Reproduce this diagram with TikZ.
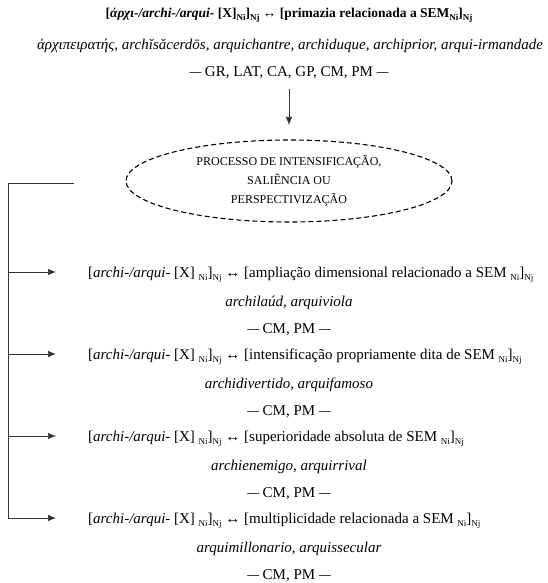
\documentclass[tikz,border=0pt]{standalone}
\usepackage{fontspec}
\setmainfont{Liberation Serif}
\usetikzlibrary{arrows.meta,shapes.geometric}
% small lowered index letters (Ni, Nj)
\newcommand\lw[1]{\raisebox{-0.45ex}{\fontsize{9}{9}\selectfont #1}}
\newcommand\pref{\textit{archi-/arqui-}}
% a somewhat shortened dash for the period labels
\newcommand\dsh{\scalebox{0.78}[1]{—}}
\begin{document}
\begin{tikzpicture}[x=1pt,y=-1pt,
  base/.style={inner sep=0pt, font=\fontsize{15}{18}\selectfont},
  txt/.style={base, anchor=base},
  extxt/.style={base, anchor=base, font=\itshape\fontsize{15}{18}\selectfont},
  rowtxt/.style={base, anchor=base west},
  rule/.style={line width=0.7pt, draw=black!80},
  tip/.style={-{Latex[length=8pt,width=6.5pt]}}]
\useasboundingbox (0,0) rectangle (548,583);

% header: general construction
\node[txt, font=\bfseries\fontsize{13.5}{16}\selectfont] (title) at (289,18)
  {[\textit{ἀρχι-/archi-/arqui-} [X]\lw{Ni}]\lw{Nj} ↔ [primazia relacionada a SEM\lw{Ni}]\lw{Nj}};
\node[extxt] (ex0) at (290,50)
  {ἀρχιπειρατής, archĭsăcerdōs, arquichantre, archiduque, archiprior, arqui-irmandade};
\node[txt] (per0) at (289,77) {\dsh{} GR, LAT, CA, GP, CM, PM \dsh};

\coordinate (d0) at (289,89);
\coordinate (d1) at (289,125);
\draw[rule, tip] (d0) -- (d1);
\node[ellipse, draw, dashed, dash pattern=on 5pt off 3pt, line width=1.1pt,
  minimum width=326pt, minimum height=82pt, inner sep=0pt, align=center,
  font=\fontsize{12}{19}\selectfont] (proc) at (289,181)
  {PROCESSO DE INTENSIFICAÇÃO,\\ SALIÊNCIA OU\\ PERSPECTIVIZAÇÃO};

% the four specialised constructions
\node[rowtxt] (r1) at (88,277)
  {[\pref{} [X] \lw{Ni}]\lw{Nj} ↔ [ampliação dimensional relacionado a SEM \lw{Ni}]\lw{Nj}};
\node[extxt] (e1) at (289,306) {archilaúd, arquiviola};
\node[txt] (p1) at (289,333) {\dsh{} CM, PM \dsh};

\node[rowtxt] (r2) at (88,359)
  {[\pref{} [X] \lw{Ni}]\lw{Nj} ↔ [intensificação propriamente dita de SEM \lw{Ni}]\lw{Nj}};
\node[extxt] (e2) at (289,388) {archidivertido, arquifamoso};
\node[txt] (p2) at (289,415) {\dsh{} CM, PM \dsh};

\node[rowtxt] (r3) at (88,441)
  {[\pref{} [X] \lw{Ni}]\lw{Nj} ↔ [superioridade absoluta de SEM \lw{Ni}]\lw{Nj}};
\node[extxt] (e3) at (289,470) {archienemigo, arquirrival};
\node[txt] (p3) at (289,497) {\dsh{} CM, PM \dsh};

\node[rowtxt] (r4) at (88,523)
  {[\pref{} [X] \lw{Ni}]\lw{Nj} ↔ [multiplicidade relacionada a SEM \lw{Ni}]\lw{Nj}};
\node[extxt] (e4) at (289,552) {arquimillonario, arquissecular};
\node[txt] (p4) at (289,579) {\dsh{} CM, PM \dsh};

% bracket on the left with its branches
\coordinate (bt) at (74,183);
\coordinate (b0) at (8,183);
\coordinate (b1) at (8,272);
\coordinate (b2) at (8,354);
\coordinate (b3) at (8,436);
\coordinate (b4) at (8,518);
\coordinate (a1) at (56,272);
\coordinate (a2) at (56,354);
\coordinate (a3) at (56,436);
\coordinate (a4) at (56,518);
\draw[rule] (bt) -- (b0) -- (b4);
\draw[rule, tip] (b1) -- (a1);
\draw[rule, tip] (b2) -- (a2);
\draw[rule, tip] (b3) -- (a3);
\draw[rule, tip] (b4) -- (a4);
\end{tikzpicture}
\end{document}
